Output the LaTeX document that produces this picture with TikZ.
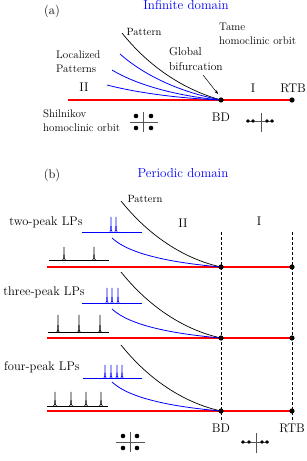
\documentclass[tikz,border=0pt]{standalone}
\usepackage{xcolor}
\usepackage{tikz}
\usetikzlibrary{arrows.meta}
\definecolor{lpblue}{HTML}{0000FF}
\definecolor{homred}{HTML}{FF0000}
\definecolor{axisgray}{HTML}{555555}

\begin{document}
\begin{tikzpicture}[x=1pt,y=-1pt,
    txt/.style={inner sep=0pt,font=\fontsize{12.5}{14}\selectfont},
    head/.style={inner sep=0pt,text=lpblue,font=\fontsize{13}{15}\selectfont},
    note/.style={inner sep=0pt,anchor=west,align=left,font=\fontsize{11}{14}\selectfont},
    tag/.style={inner sep=0pt,font=\fontsize{10.5}{12}\selectfont},
    redline/.style={homred,line width=1.1pt},
    patcurve/.style={black,line width=0.7pt},
    lpcurve/.style={lpblue,line width=0.8pt},
    spikes/.style={line width=0.6pt}]
  \useasboundingbox (0,0) rectangle (307,461);

  % ---- (a) infinite domain
  \node[txt] (a) at (52,11) {(a)};
  \node[head] (inf) at (186,5) {Infinite domain};
  \coordinate (leftA) at (68,100);
  \coordinate (bdA) at (221,100);
  \coordinate (rtbA) at (292,100);
  \draw[redline] (leftA) -- (rtbA);
  \draw[patcurve] (122,33) .. controls (150,68) and (185,90) .. (bdA);
  \draw[lpcurve] (120,54) .. controls (145,76) and (180,92) .. (bdA);
  \draw[lpcurve] (112,70) .. controls (135,84) and (175,96) .. (bdA);
  \draw[lpcurve] (107,85) .. controls (130,91) and (170,98) .. (bdA);
  \fill (bdA) circle (2.6);
  \fill (rtbA) circle (2.6);
  \node[tag] (patA) at (144,32) {Pattern};
  \node[note] (loc) at (56,61.5) {Localized\\Patterns};
  \node[txt] (twoA) at (84,87) {II};
  \node[txt] (oneA) at (253,88) {I};
  \node[note,font=\fontsize{11.5}{15}\selectfont] (glob) at (169,59.5) {Global\\bifurcation};
  \node[note] (tame) at (219,33.5) {Tame\\homoclinic orbit};
  \node[note] (shil) at (43,121) {Shilnikov\\homoclinic orbit};
  \node[txt] (bdlA) at (221,117) {BD};
  \node[txt] (rtblA) at (293,88) {RTB};
  \coordinate (tip) at (218,94);
  \draw[-{Stealth[length=4pt,width=3pt]},line width=0.5pt] (203,75) -- (tip);
  % eigenvalues
  \draw[axisgray,line width=0.5pt] (143,112) -- (143,132) (130,122) -- (158,122);
  \foreach \px/\py in {136/116,151/116,136/128,151/128}
    \fill (\px,\py) circle (2.3);
  \draw[axisgray,line width=0.5pt] (261,113) -- (261,132) (246,121) -- (274,121);
  \foreach \px in {248,253,267,272}
    \fill (\px,121) circle (1.9);

  % ---- (b) periodic domain
  \node[txt] (b) at (52,175) {(b)};
  \node[head] (per) at (183,173) {Periodic domain};
  \coordinate (bdTop) at (221,232);
  \coordinate (bdBot) at (221,420);
  \coordinate (rtbTop) at (292,232);
  \coordinate (rtbBot) at (292,420);
  \draw[dashed,dash pattern=on 3pt off 2pt,line width=0.6pt] (bdTop) -- (bdBot);
  \draw[dashed,dash pattern=on 3pt off 2pt,line width=0.6pt] (rtbTop) -- (rtbBot);
  \foreach \row/\ry in {1/267,2/338,3/411} {
    \coordinate (left\row) at (47,\ry);
    \coordinate (bd\row) at (221,\ry);
    \coordinate (rtb\row) at (292,\ry);
    \draw[redline] (left\row) -- (rtb\row);
    \draw[patcurve] (121,\ry-66) .. controls (150,\ry-30) and (185,\ry-8) .. (bd\row);
    \draw[lpcurve] (112,\ry-29) .. controls (130,\ry-12) and (175,\ry-4) .. (bd\row);
    \fill (bd\row) circle (2.6);
    \fill (rtb\row) circle (2.6);
  }
  \node[tag] (patB) at (145,199) {Pattern};
  \node[txt] (twoB) at (183,223) {II};
  \node[txt] (oneB) at (259,221) {I};
  \node[txt] (twoLP) at (46,222) {two-peak LPs};
  \node[txt] (threeLP) at (44,292) {three-peak LPs};
  \node[txt] (fourLP) at (42,367) {four-peak LPs};
  \node[txt] (bdlB) at (221,428) {BD};
  \node[txt] (rtblB) at (292,428) {RTB};

  % profiles
  \draw[lpblue,spikes] (82,232) -- (142,232);
  \foreach \px in {111,116}
    \draw[lpblue,spikes] (\px-1.2,232) .. controls (\px-0.3,232) .. (\px,217) .. controls (\px+0.3,232) .. (\px+1.2,232);
  \draw[spikes] (49,260) -- (109,260);
  \foreach \px in {64,94}
    \draw[spikes] (\px-1.5,260) .. controls (\px-0.3,260) .. (\px,247) .. controls (\px+0.3,260) .. (\px+1.5,260);

  \draw[lpblue,spikes] (82,303) -- (142,303);
  \foreach \px in {107,112,118}
    \draw[lpblue,spikes] (\px-1.2,303) .. controls (\px-0.3,303) .. (\px,288) .. controls (\px+0.3,303) .. (\px+1.2,303);
  \draw[spikes] (48,332) -- (109,332);
  \foreach \px in {58,79,100}
    \draw[spikes] (\px-1.5,332) .. controls (\px-0.3,332) .. (\px,315) .. controls (\px+0.3,332) .. (\px+1.5,332);

  \draw[lpblue,spikes] (83,378) -- (142,378);
  \foreach \px in {105,111,117,122}
    \draw[lpblue,spikes] (\px-1.2,378) .. controls (\px-0.3,378) .. (\px,365) .. controls (\px+0.3,378) .. (\px+1.2,378);
  \draw[spikes] (47,406) -- (108,406);
  \foreach \px in {55,71,86,101}
    \draw[spikes] (\px-1.5,406) .. controls (\px-0.3,406) .. (\px,392) .. controls (\px+0.3,406) .. (\px+1.5,406);

  % eigenvalues
  \draw[axisgray,line width=0.5pt] (130,432) -- (130,452) (116,442) -- (145,442);
  \foreach \px/\py in {123/436,137/436,123/448,137/448}
    \fill (\px,\py) circle (2.3);
  \draw[axisgray,line width=0.5pt] (256,433) -- (256,453) (241,442) -- (269,442);
  \foreach \px in {243,249,262,267}
    \fill (\px,442) circle (1.9);
\end{tikzpicture}
\end{document}
